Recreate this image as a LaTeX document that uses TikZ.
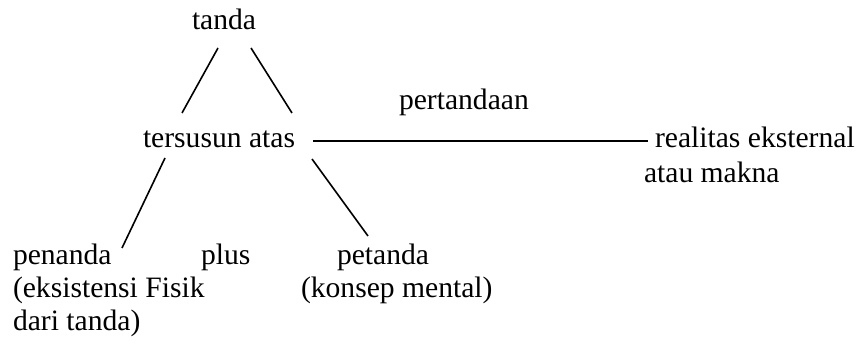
\documentclass[tikz,border=0pt]{standalone}
\usepackage{fontspec}
\setmainfont{Liberation Serif}
\tikzset{
  lbl/.style={anchor=base west, inner sep=0pt, outer sep=0pt, font=\fontsize{29.6}{33}\selectfont},
  ln/.style={line width=1.6pt, draw=black}
}
\begin{document}
\begin{tikzpicture}[x=1pt,y=-1pt]
\useasboundingbox (0,0) rectangle (860,347);
\node[lbl] (tanda) at (192,30) {tanda};
\node[lbl] (tersusun) at (143,148) {tersusun atas};
\node[lbl] (pert) at (399,110) {pertandaan};
\node[lbl] (real) at (655,148) {realitas eksternal};
\node[lbl] (makna) at (644,183) {atau makna};
\node[lbl] (penanda) at (13,265) {penanda};
\node[lbl] (eks) at (13,298) {(eksistensi Fisik};
\node[lbl] (dari) at (13,331) {dari tanda)};
\node[lbl] (plus) at (201,265) {plus};
\node[lbl] (petanda) at (337,265) {petanda};
\node[lbl] (konsep) at (301,298) {(konsep mental)};
\coordinate (a1) at (218,48);
\coordinate (a2) at (182,113);
\coordinate (b1) at (251,48);
\coordinate (b2) at (292,113);
\coordinate (c1) at (165,158);
\coordinate (c2) at (122,248);
\coordinate (d1) at (312,159);
\coordinate (d2) at (368,236);
\coordinate (e1) at (313,141);
\coordinate (e2) at (648,141);
\draw[ln] (a1) -- (a2);
\draw[ln] (b1) -- (b2);
\draw[ln] (c1) -- (c2);
\draw[ln] (d1) -- (d2);
\draw[ln] (e1) -- (e2);
\end{tikzpicture}
\end{document}
